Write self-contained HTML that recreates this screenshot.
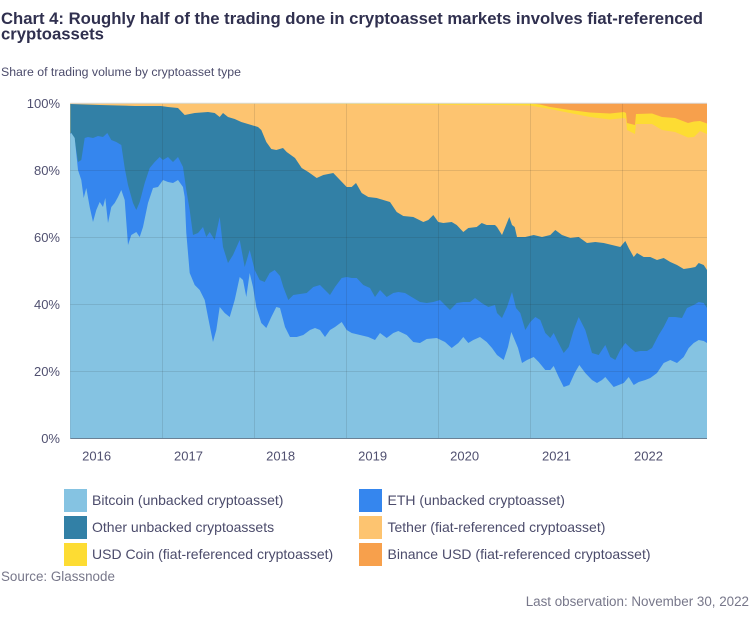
<!DOCTYPE html>
<html>
<head>
<meta charset="utf-8">
<style>
html,body{margin:0;padding:0;background:#fff;}
svg{display:block;}
text{font-family:"Liberation Sans",Arial,sans-serif;}
</style>
</head>
<body>
<svg width="750" height="620" viewBox="0 0 750 620" xmlns="http://www.w3.org/2000/svg">
<rect width="750" height="620" fill="#fff"/>
<text x="1" y="24" font-size="16.7" font-weight="bold" fill="#30304f" textLength="702" lengthAdjust="spacing">Chart 4: Roughly half of the trading done in cryptoasset markets involves fiat-referenced</text>
<text x="1" y="39.7" font-size="16.7" font-weight="bold" fill="#30304f">cryptoassets</text>
<text x="1" y="76" font-size="12.3" fill="#4b4b6b">Share of trading volume by cryptoasset type</text>

<!-- Binance (background of plot) -->
<rect x="70.3" y="103.3" width="636.7" height="335" fill="#f7a04c"/>
<!-- USD Coin -->
<polygon fill="#fddc33" points="70.3,103.3 530,103.3 540,104.5 550,107 570,110 590,112.5 610,113.5 624,112 626,113 627,123 635,125 636,114 652,113.5 662,117 675,118 688,123 694,121.5 700,121 707,123.5 707,438.3 70.3,438.3"/>
<!-- Tether -->
<polygon fill="#fdc470" points="70.3,103.5 300,103.8 400,104.5 500,105 530,105.5 550,109 570,113 590,117 610,119.5 624,118 626,119 627,130 635,134 636,124 652,124 662,130 675,132 688,137.5 694,137 700,131 707,134 707,438.3 70.3,438.3"/>
<!-- Other unbacked -->
<polygon fill="#3280a6" points="70.3,104 100,105 135,106 161,106 168,107 178,108 184.7,115 194.7,113 208,112 214.7,113 219.7,117 223,113 228,117 234.7,119 241.3,122 251.3,125 258,127 261.3,130 266.3,142 271.3,149 276.3,150 283,148 286.7,152 295,158 301.7,168 308.3,172 316.7,178 323.3,175 333.3,173 340,180 346.7,187 351.7,187 356,183 361.7,193 368.3,197 376.7,198 383.3,200 390,202 396.7,212 403.3,216 413.3,217 423.3,222 428.3,220 433.3,215 438.3,222 443.3,223 451.7,222 456.7,225 463.3,232 468.3,228 476.7,227 481.7,223 486.7,225 495,225 497,227 502,235 505.3,227 509.3,217 512,225 514.7,227 517,237 525.3,237 533.7,235 542,237 550.3,235 555.3,230 562,235 570.3,238 578.7,237 587,243 595.3,242 603.7,243 612,245 620.3,247 625.3,241 628.7,248 633.7,257 637,253 643.7,257 650.3,257 657,260 663.7,258 670.3,262 677,265 683.7,269 690.3,268 695.3,267 698.7,263 703.7,265 707,270 707,438.3 70.3,438.3"/>
<!-- ETH -->
<polygon fill="#3586ee" points="70.3,133 71.3,133 74.7,140 78,162 81.3,160 84.7,138 88,137 93,138 98,136 103,137 107.3,133 111.3,140 116.3,142 121.3,145 124.7,168 128,185 133,203 136.3,210 139.7,202 144.7,183 149.7,168 154.7,162 159.7,157 163,160 168,157 173,162 178,157 183,167 186.3,190 189.7,210 193,235 198,233 203,227 206.3,237 209.7,232 214.7,240 219.7,217 223,247 228,263 233,255 239.7,240 244.7,267 249.7,250 254.7,270 259.7,280 264.7,282 269.7,273 274.7,270 280,276 283.3,287 288.3,300 293.3,295 300,294 306.7,293 313.3,287 320,285 325,290 330,295 335,287 341.7,278 346.7,277 351.7,278 356.7,278 363.3,285 370,288 375,297 380,290 386.7,297 393.3,293 398.3,292 405,293 413.3,298 420,302 426.7,303 433.3,302 440,300 445,305 450,310 456.7,303 463.3,302 470,302 475,298 481.7,303 488.3,307 495,305 497,313 502,318 507,307 512,292 516,308 520.3,313 525.3,330 530.3,322 535.3,317 540.3,320 545.3,333 550.3,338 553.7,333 557,340 563.7,353 568.7,347 573.7,330 578.7,317 585.3,330 592,353 598.7,355 605.3,345 610.3,357 615.3,360 620.3,350 625.3,343 630.3,348 635.3,352 640.3,351 647,351 652,348 658.7,335 663.7,327 668.7,317 675.3,317 682,318 687,308 693.7,305 698.7,302 703.7,303 707,308 707,438.3 70.3,438.3"/>
<!-- Bitcoin -->
<polygon fill="#85c3e2" points="70.3,134 71.3,133 74.7,138 78,170 81.3,180 83.7,198 86.3,188 89.7,207 93,222 96.3,210 99.7,202 103,207 105.3,198 108,223 111.3,207 114.7,203 118,197 121.3,190 124.7,200 128,245 131.3,235 136.3,232 139.7,237 143,227 148,203 153,188 158,187 163,180 168,182 173,183 178,180 183,187 184.7,197 186.3,233 189.7,273 194.7,285 199.7,290 204.7,300 208,317 213,342 216.3,330 219.7,307 224.7,313 229.7,317 234.7,300 239.7,277 243,280 246.3,297 249.7,273 253,287 256.3,307 261.3,323 266.3,328 271.3,317 276.3,307 280,308 285,327 290,337 296.7,337 303.3,335 310,330 315,328 320,330 325,337 330,330 335,327 341.7,322 346.7,330 351.7,333 360,335 368.3,337 375,340 380,333 386.7,338 393.3,333 398.3,331 406.7,335 413.3,342 420,343 426.7,339 436.7,338 445,342 451.7,348 458.3,343 463.3,337 468.3,343 473.3,340 480,337 486.7,342 492,348 497,355 503.7,360 508,347 511.3,332 514.7,340 518,348 522,363 527,360 533.7,357 538.7,362 545.3,370 550.3,370 553.7,366 558.7,377 563.7,387 569.3,385 574.7,373 579.3,365 585.3,373 592,380 597,383 602,380 605.3,377 610.3,383 613.7,387 618.7,385 623.7,383 628.7,377 633.7,385 638.7,382 645.3,380 650.3,378 657,373 663.7,363 670.3,360 677,363 683.7,357 688.7,348 693.7,343 698.7,340 703.7,341 707,343 707,438.3 70.3,438.3"/>

<!-- gridlines -->
<g stroke="#2a2a2a" stroke-opacity="0.12" stroke-width="1">
<line x1="70.3" y1="170.5" x2="707" y2="170.5"/>
<line x1="70.3" y1="237.5" x2="707" y2="237.5"/>
<line x1="70.3" y1="304.5" x2="707" y2="304.5"/>
<line x1="70.3" y1="371.5" x2="707" y2="371.5"/>
<line x1="162.5" y1="103.3" x2="162.5" y2="438"/>
<line x1="254.5" y1="103.3" x2="254.5" y2="438"/>
<line x1="346.5" y1="103.3" x2="346.5" y2="438"/>
<line x1="438.5" y1="103.3" x2="438.5" y2="438"/>
<line x1="530.5" y1="103.3" x2="530.5" y2="438"/>
<line x1="622.5" y1="103.3" x2="622.5" y2="438"/>
</g>
<line x1="70.3" y1="103.3" x2="707" y2="103.3" stroke="#d8d8d8" stroke-width="1"/>
<line x1="70.3" y1="438.5" x2="707" y2="438.5" stroke="#6a8196" stroke-width="1"/>

<!-- y labels -->
<g font-size="13" fill="#505070" text-anchor="end">
<text x="60" y="108">100%</text>
<text x="60" y="175">80%</text>
<text x="60" y="242">60%</text>
<text x="60" y="309">40%</text>
<text x="60" y="376">20%</text>
<text x="60" y="443">0%</text>
</g>
<!-- x labels -->
<g font-size="13" fill="#505070" text-anchor="middle">
<text x="96.6" y="460.5">2016</text>
<text x="188.5" y="460.5">2017</text>
<text x="280.6" y="460.5">2018</text>
<text x="372.6" y="460.5">2019</text>
<text x="464.6" y="460.5">2020</text>
<text x="556.5" y="460.5">2021</text>
<text x="648.5" y="460.5">2022</text>
</g>

<!-- legend -->
<rect x="64" y="489" width="23" height="23" fill="#85c3e2"/>
<rect x="64" y="516" width="23" height="23" fill="#3280a6"/>
<rect x="64" y="543" width="23" height="23" fill="#fddc33"/>
<rect x="359" y="489" width="23" height="23" fill="#3586ee"/>
<rect x="359" y="516" width="23" height="23" fill="#fdc470"/>
<rect x="359" y="543" width="23" height="23" fill="#f7a04c"/>
<g font-size="14" fill="#4b4b6b">
<text x="92" y="505">Bitcoin (unbacked cryptoasset)</text>
<text x="92" y="532">Other unbacked cryptoassets</text>
<text x="92" y="559">USD Coin (fiat-referenced cryptoasset)</text>
<text x="387.5" y="505">ETH (unbacked cryptoasset)</text>
<text x="387.5" y="532">Tether (fiat-referenced cryptoasset)</text>
<text x="387.5" y="559">Binance USD (fiat-referenced cryptoasset)</text>
</g>
<text x="1" y="581" font-size="13.4" fill="#77778a">Source: Glassnode</text>
<text x="749" y="606" font-size="13.4" fill="#77778a" text-anchor="end">Last observation: November 30, 2022</text>
</svg>
</body>
</html>
